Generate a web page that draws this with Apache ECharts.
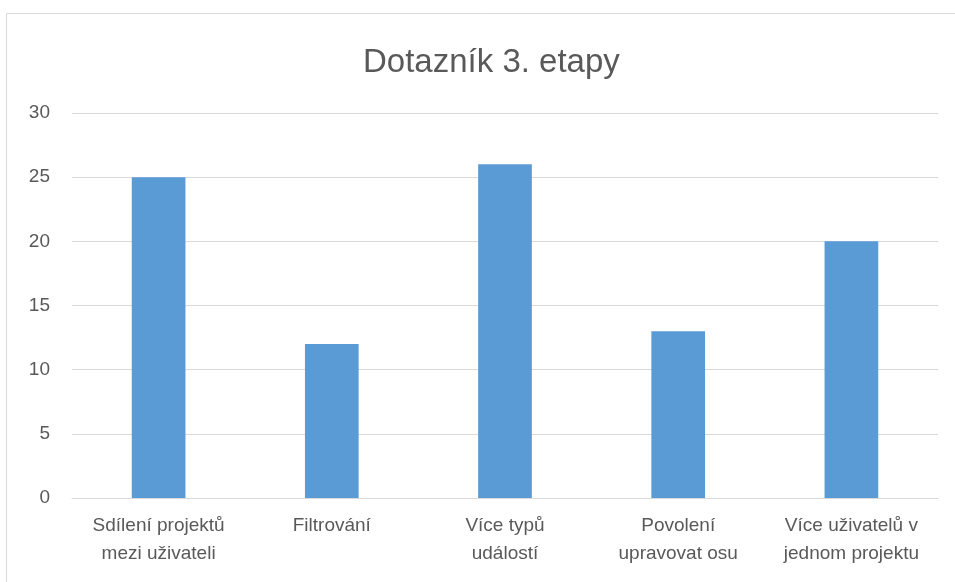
<!DOCTYPE html>
<html><head><meta charset="utf-8">
<script src="https://cdn.jsdelivr.net/npm/echarts@6/dist/echarts.min.js"></script>
<style>html,body{margin:0;padding:0;background:#fff}#c{width:955px;height:582px}</style>
</head><body><div id="c"></div>
<script>
const titleText = 'Dotazník 3. etapy';
const categories = ['Sdílení projektů\nmezi uživateli', 'Filtrování', 'Více typů\nudálostí', 'Povolení\nupravovat osu', 'Více uživatelů v\njednom projektu'];
const values = [25, 12, 26, 13, 20];
const yMin = 0, yMax = 30, yStep = 5;

const chart = echarts.init(document.getElementById('c'));
const font = 'Liberation Sans, Arial, sans-serif';
chart.setOption({
  animation: false,
  graphic: [{type:'rect', shape:{x:6.5,y:13.5,width:960,height:600}, style:{fill:'none', stroke:'#d9d9d9', lineWidth:1}, silent:true}],
  title: {text: titleText, left: 358, top: 41, textStyle:{fontFamily:font, fontSize:33, fontWeight:'normal', color:'#595959'}},
  grid: {left:72, right:17, top:113, bottom:84},
  xAxis: {type:'category', data:categories,
    axisLine:{lineStyle:{color:'#d9d9d9', width:1}}, axisTick:{show:false},
    axisLabel:{fontFamily:font, fontSize:19, color:'#595959', lineHeight:28, margin:14, interval:0}},
  yAxis: {type:'value', min:yMin, max:yMax, interval:yStep,
    axisLine:{show:false}, axisTick:{show:false},
    splitLine:{lineStyle:{color:'#d9d9d9', width:1}},
    axisLabel:{fontFamily:font, fontSize:19, color:'#595959', margin:22}},
  series: [{type:'bar', data:values, barWidth:'31%', itemStyle:{color:'#5b9bd5'}}]
});
</script></body></html>
